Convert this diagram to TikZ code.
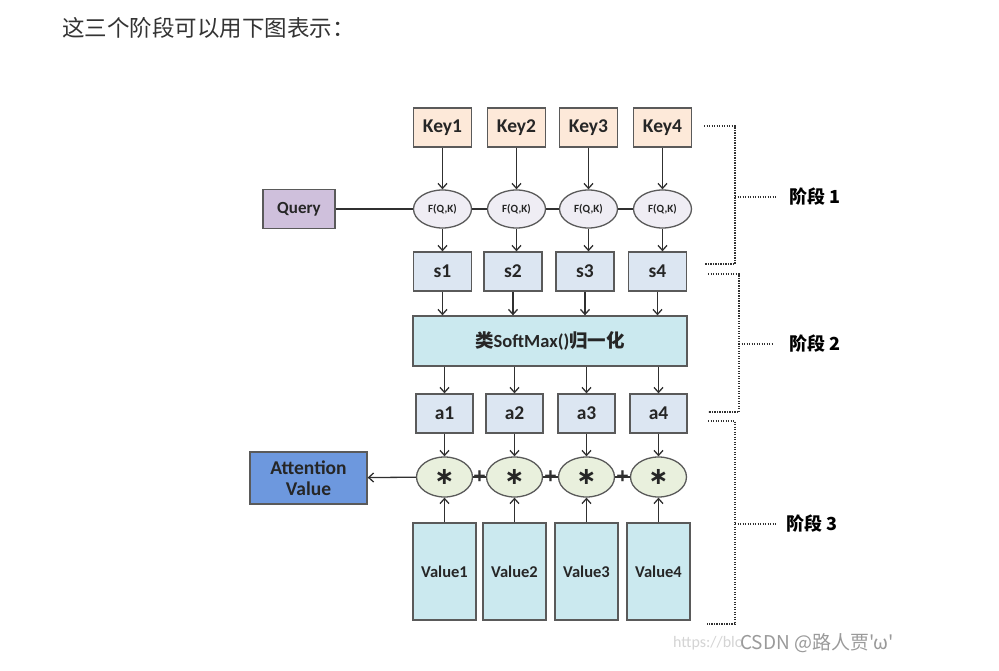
\documentclass[tikz,border=0pt]{standalone}
\usepackage{fontspec}
\setmainfont{Carlito}
\newfontfamily\cjk{Noto Sans CJK SC}
\newfontfamily\symfont{DejaVu Sans}
\usetikzlibrary{arrows.meta, shapes.geometric}

\definecolor{keyfill}{HTML}{FDE9D9}
\definecolor{queryfill}{HTML}{CFC0DC}
\definecolor{ffill}{HTML}{EFEDF4}
\definecolor{sfill}{HTML}{DCE6F2}
\definecolor{cyanfill}{HTML}{CBE9EF}
\definecolor{mfill}{HTML}{E9F0DD}
\definecolor{attfill}{HTML}{6D98DE}
\definecolor{boxline}{HTML}{5A5A5A}
\definecolor{linegrey}{HTML}{303030}
\definecolor{textgrey}{HTML}{333333}
\definecolor{wmgrey}{HTML}{9A9A9A}
\definecolor{urlgrey}{HTML}{D4D4D4}

\begin{document}
\begin{tikzpicture}[x=1pt, y=-1pt,
    smallbox/.style={rectangle, minimum width=58, minimum height=39, font=\bfseries\fontsize{19.5}{22}\selectfont},
    fqk/.style={ellipse, fill=ffill, minimum width=58, minimum height=38, font=\bfseries\fontsize{11}{12}\selectfont},
    mult/.style={ellipse, fill=mfill, minimum width=56, minimum height=40, font=\symfont\bfseries\fontsize{24}{24}\selectfont},
    valbox/.style={rectangle, fill=cyanfill, minimum width=63, minimum height=97, font=\bfseries\fontsize{16.5}{19}\selectfont},
    plussign/.style={inner sep=0pt, text=linegrey, font=\bfseries\fontsize{23}{23}\selectfont},
    stage/.style={anchor=west, inner sep=0pt, font=\cjk\bfseries\fontsize{18}{20}\selectfont},
    bracket/.style={draw=linegrey, line width=1.2pt, dash pattern=on 1.4pt off 1.1pt}]
\useasboundingbox[fill=white] (0,0) rectangle (999,671);

\node (title) at (62,28) [anchor=west, inner sep=0pt, text=textgrey, font=\cjk\fontsize{22.5}{26}\selectfont] {这三个阶段可以用下图表示：};

\begin{scope}[every node/.style={draw=boxline, line width=1.3pt, inner sep=0pt, text=black!85}]
    \node (key1) at (442.5, 127.5) [smallbox, fill=keyfill] {Key1};
    \node (key2) at (516.5, 127.5) [smallbox, fill=keyfill] {Key2};
    \node (key3) at (588.5, 127.5) [smallbox, fill=keyfill] {Key3};
    \node (key4) at (662.5, 127.5) [smallbox, fill=keyfill] {Key4};

    \node (query) at (299, 209) [rectangle, fill=queryfill, minimum width=72, minimum height=39, font=\bfseries\fontsize{17}{19}\selectfont] {Query};

    \node (f1) at (442.5, 209) [fqk] {F(Q,K)};
    \node (f2) at (516.5, 209) [fqk] {F(Q,K)};
    \node (f3) at (588.5, 209) [fqk] {F(Q,K)};
    \node (f4) at (662.5, 209) [fqk] {F(Q,K)};

    \node (s1) at (442.5, 271.5) [smallbox, fill=sfill] {s1};
    \node (s2) at (513, 271.5) [smallbox, fill=sfill] {s2};
    \node (s3) at (585, 271.5) [smallbox, fill=sfill] {s3};
    \node (s4) at (657.5, 271.5) [smallbox, fill=sfill] {s4};

    \node (softmax) at (550, 341) [rectangle, fill=cyanfill, minimum width=274, minimum height=50, font=\bfseries\fontsize{18.5}{20}\selectfont] {{\cjk 类}SoftMax(){\cjk 归一化}};

    \node (a1) at (444.5, 413.5) [smallbox, fill=sfill, minimum width=57] {a1};
    \node (a2) at (514.5, 413.5) [smallbox, fill=sfill, minimum width=57] {a2};
    \node (a3) at (586.5, 413.5) [smallbox, fill=sfill, minimum width=57] {a3};
    \node (a4) at (658.5, 413.5) [smallbox, fill=sfill, minimum width=57] {a4};

    \node (m1) at (444.5, 477) [mult] {∗};
    \node (m2) at (514.5, 477) [mult] {∗};
    \node (m3) at (586.5, 477) [mult] {∗};
    \node (m4) at (658.5, 477) [mult] {∗};

    \node (att) at (308.5, 478) [rectangle, fill=attfill, minimum width=117, minimum height=52, align=center, font=\bfseries\fontsize{19.5}{21}\selectfont] {Attention\\Value};

    \node (v1) at (444.5, 571.5) [valbox] {Value1};
    \node (v2) at (514.5, 571.5) [valbox] {Value2};
    \node (v3) at (586.5, 571.5) [valbox] {Value3};
    \node (v4) at (658.5, 571.5) [valbox] {Value4};
\end{scope}

\begin{scope}[>={Straight Barb[length=5pt,width=9pt]},
              every edge/.style={draw=linegrey, line width=1.3pt}]
    \path [->] (key1) edge (f1);
    \path [->] (key2) edge (f2);
    \path [->] (key3) edge (f3);
    \path [->] (key4) edge (f4);

    \path (query) edge (f1);
    \path (f1) edge (f2);
    \path (f2) edge (f3);
    \path (f3) edge (f4);

    \path [->] (f1) edge (f1 |- s1.north);
    \path [->] (f2) edge (f2 |- s2.north);
    \path [->] (f3) edge (f3 |- s3.north);
    \path [->] (f4) edge (f4 |- s4.north);

    \path [->] (s1) edge (s1 |- softmax.north);
    \path [->] (s2) edge (s2 |- softmax.north);
    \path [->] (s3) edge (s3 |- softmax.north);
    \path [->] (s4) edge (s4 |- softmax.north);

    \path [->] (a1 |- softmax.south) edge (a1);
    \path [->] (a2 |- softmax.south) edge (a2);
    \path [->] (a3 |- softmax.south) edge (a3);
    \path [->] (a4 |- softmax.south) edge (a4);

    \path [->] (a1) edge (m1);
    \path [->] (a2) edge (m2);
    \path [->] (a3) edge (m3);
    \path [->] (a4) edge (m4);

    \path [->] (v1) edge (m1);
    \path [->] (v2) edge (m2);
    \path [->] (v3) edge (m3);
    \path [->] (v4) edge (m4);

    \path [->] (m1) edge (att);
    \path (m1) edge node[plussign] {+} (m2);
    \path (m2) edge node[plussign] {+} (m3);
    \path (m3) edge node[plussign] {+} (m4);
\end{scope}

% stages
\node (stage1) at (789, 197) [stage] {阶段 1};
\node (stage2) at (789, 344) [stage] {阶段 2};
\node (stage3) at (786, 524) [stage] {阶段 3};

\coordinate (b1top) at (704, 126);
\coordinate (b1mid) at (735, 197);
\coordinate (b1bot) at (705, 264);
\coordinate (b2top) at (708, 274);
\coordinate (b2mid) at (739, 344);
\coordinate (b2bot) at (708, 412);
\coordinate (b3top) at (708, 421);
\coordinate (b3mid) at (735, 524);
\coordinate (b3bot) at (707, 624);

\draw [bracket] (b1top) -| (b1mid) |- (b1bot);
\draw [bracket] (b2top) -| (b2mid) |- (b2bot);
\draw [bracket] (b3top) -| (b3mid) |- (b3bot);
\draw [bracket, shorten >=12pt] (b1mid) -- (stage1.west);
\draw [bracket, shorten >=16pt] (b2mid) -- (stage2.west);
\draw [bracket, shorten >=9pt] (b3mid) -- (stage3.west);

% watermark
\node (url) at (673, 643) [anchor=west, inner sep=0pt, text=urlgrey, font=\fontsize{16}{18}\selectfont] {https://blo};
\node (wm) at (740, 643) [anchor=west, inner sep=0pt, text=wmgrey, font=\cjk\fontsize{19}{21}\selectfont] {CSDN @路人贾'ω'};
\end{tikzpicture}
\end{document}
